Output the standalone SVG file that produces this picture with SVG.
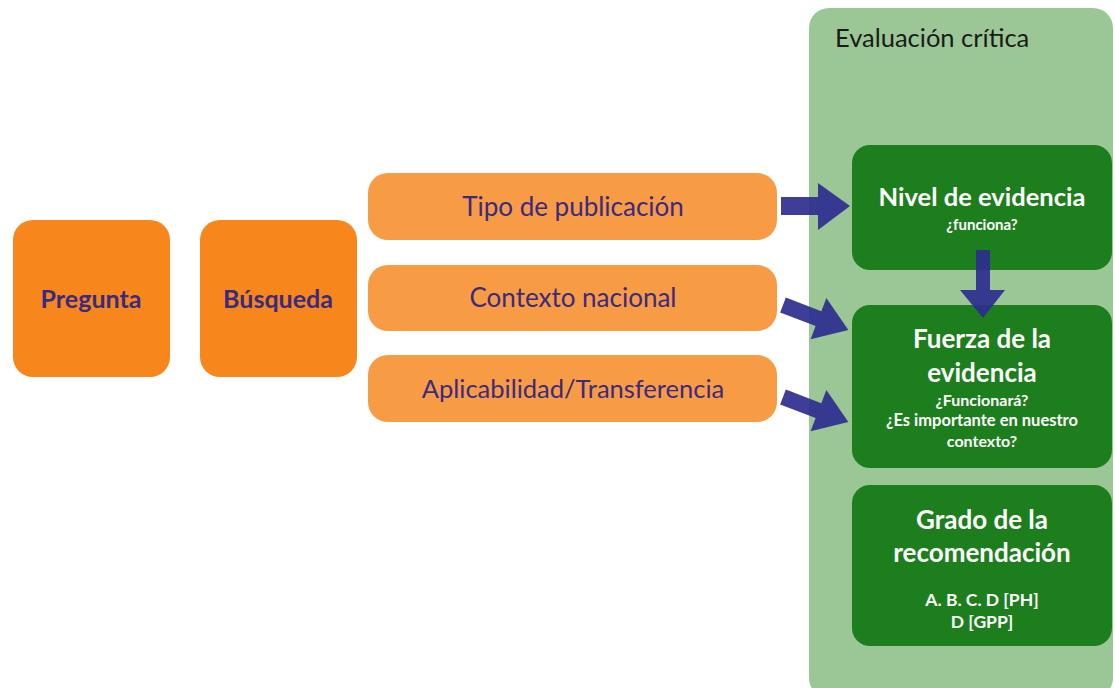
<svg xmlns="http://www.w3.org/2000/svg" width="1115" height="688" viewBox="0 0 1115 688">
<style>
.sq{fill:#F7861C}
.bar{fill:#F89B45}
.gr{fill:#1D7E1D}
.t1{font-family:Lato,"Liberation Sans",sans-serif;fill:#3A2A80;text-anchor:middle}
.tw{font-family:Lato,"Liberation Sans",sans-serif;fill:#FFFFFF;text-anchor:middle}
.arr{fill:#2E2D8F;fill-opacity:0.92}
</style>
<rect width="1115" height="688" fill="#FFFFFF"/>
<g id="evaluacion">
<rect x="809" y="8" width="304" height="690" rx="20" fill="#9AC795"/>
<text x="835" y="47" font-family="Lato,'Liberation Sans',sans-serif" font-size="25.5" fill="#1A1A1A">Evaluación crítica</text>
</g>
<g id="pregunta">
<rect class="sq" x="13" y="220" width="157" height="157" rx="20"/>
<text class="t1" x="91" y="308" font-size="25" font-weight="bold">Pregunta</text>
</g>
<g id="busqueda">
<rect class="sq" x="200" y="220" width="157" height="157" rx="20"/>
<text class="t1" x="278" y="308" font-size="25" font-weight="bold">Búsqueda</text>
</g>
<g id="tipo">
<rect class="bar" x="368" y="173" width="409" height="67" rx="20"/>
<text class="t1" x="573" y="216" font-size="26">Tipo de publicación</text>
</g>
<g id="contexto">
<rect class="bar" x="368" y="265" width="409" height="66" rx="20"/>
<text class="t1" x="573" y="307" font-size="26">Contexto nacional</text>
</g>
<g id="aplicabilidad">
<rect class="bar" x="368" y="355" width="409" height="67" rx="20"/>
<text class="t1" x="573" y="398" font-size="25.5">Aplicabilidad/Transferencia</text>
</g>
<g id="nivel">
<rect class="gr" x="852" y="145" width="260" height="125" rx="18"/>
<text class="tw" x="982" y="206" font-size="25.5" font-weight="bold">Nivel de evidencia</text>
<text class="tw" x="982" y="230" font-size="15" font-weight="bold">¿funciona?</text>
</g>
<g id="fuerza">
<rect class="gr" x="852" y="305" width="260" height="163" rx="18"/>
<text class="tw" x="982" y="348" font-size="26" font-weight="bold">Fuerza de la</text>
<text class="tw" x="982" y="382" font-size="26" font-weight="bold">evidencia</text>
<text class="tw" x="982" y="406" font-size="16" font-weight="bold">¿Funcionará?</text>
<text class="tw" x="982" y="426" font-size="16.5" font-weight="bold">¿Es importante en nuestro</text>
<text class="tw" x="982" y="447" font-size="16" font-weight="bold">contexto?</text>
</g>
<g id="grado">
<rect class="gr" x="852" y="485" width="260" height="161" rx="18"/>
<text class="tw" x="982" y="529" font-size="26" font-weight="bold">Grado de la</text>
<text class="tw" x="982" y="562" font-size="26" font-weight="bold">recomendación</text>
<text class="tw" x="982" y="606" font-size="17.5" font-weight="bold">A. B. C. D [PH]</text>
<text class="tw" x="982" y="628" font-size="17.5" font-weight="bold">D [GPP]</text>
</g>
<g id="connectors">
<polygon class="arr" points="781,197 818,197 818,183 850,206 818,230 818,215 781,215"/>
<polygon class="arr" points="976,250 990,250 990,290 1005,290 983,318 960,290 976,290"/>
<g transform="translate(783,305) rotate(21)">
<polygon class="arr" points="0,-8 38,-8 38,-22 70,0 38,22 38,8 0,8"/>
</g>
<g transform="translate(783,397) rotate(21)">
<polygon class="arr" points="0,-8 38,-8 38,-22 70,0 38,22 38,8 0,8"/>
</g>
</g>
</svg>
